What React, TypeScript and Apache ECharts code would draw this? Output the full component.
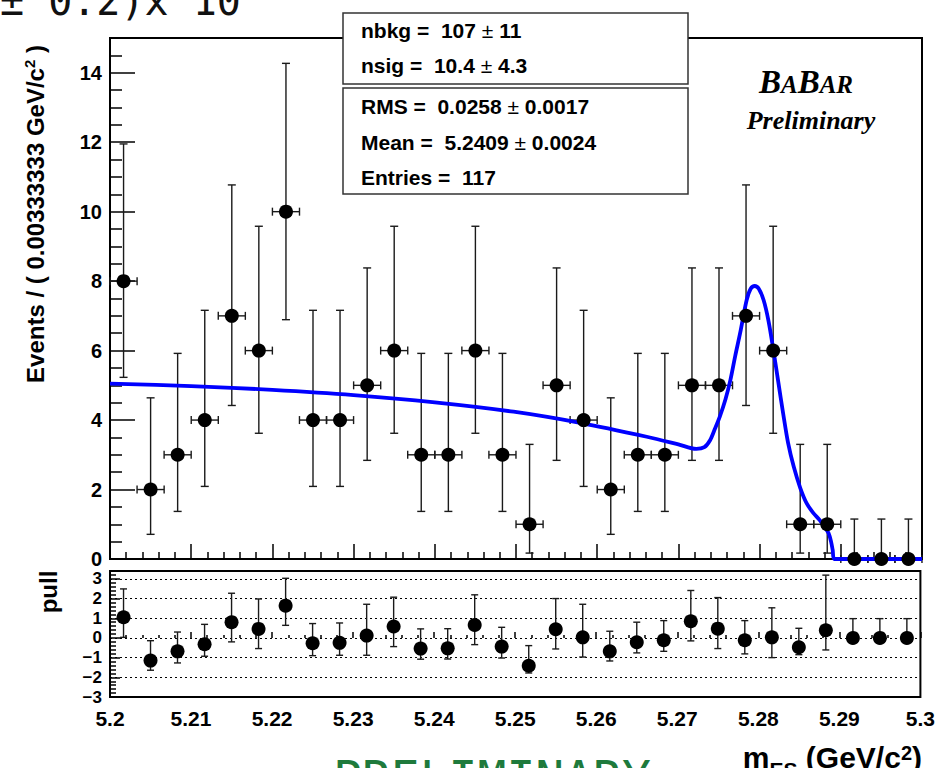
import React, { useEffect, useRef } from "react";
import * as echarts from "echarts";

// ---- data ----
const binCenters = [
  5.20167, 5.205, 5.20833, 5.21167, 5.215, 5.21833, 5.22167, 5.225, 5.22833, 5.23167,
  5.235, 5.23833, 5.24167, 5.245, 5.24833, 5.25167, 5.255, 5.25833, 5.26167, 5.265,
  5.26833, 5.27167, 5.275, 5.27833, 5.28167, 5.285, 5.28833, 5.29167, 5.295, 5.29833,
];
const counts = [8, 2, 3, 4, 7, 6, 10, 4, 4, 5, 6, 3, 3, 6, 3, 1, 5, 4, 2, 3, 3, 5, 5, 7, 6, 1, 1, 0, 0, 0];
const errLow = [
  5.23, 0.71, 1.37, 2.09, 4.42, 3.62, 6.89, 2.09, 2.09, 2.84, 3.62, 1.37, 1.37, 3.62, 1.37,
  0.17, 2.84, 2.09, 0.71, 1.37, 1.37, 2.84, 2.84, 4.42, 3.62, 0.17, 0.17, 0, 0, 0,
];
const errHigh = [
  11.95, 4.64, 5.92, 7.16, 10.77, 9.58, 14.27, 7.16, 7.16, 8.38, 9.58, 5.92, 5.92, 9.58, 5.92,
  3.3, 8.38, 7.16, 4.64, 5.92, 5.92, 8.38, 8.38, 10.77, 9.58, 3.3, 3.3, 1.15, 1.15, 1.15,
];
const halfBin = 0.001667;

const pullValues = [
  1.05, -1.15, -0.68, -0.32, 0.8, 0.46, 1.64, -0.27, -0.25, 0.12, 0.58, -0.54, -0.53, 0.66, -0.44,
  -1.41, 0.44, 0.03, -0.68, -0.22, -0.12, 0.85, 0.47, -0.12, 0.03, -0.47, 0.39, 0, 0, 0,
];
const pullLow = [
  0.03, -1.64, -1.27, -0.93, -0.2, -0.54, 0.64, -0.9, -0.88, -0.88, -0.44, -1.08, -1.07, -0.34, -1.02,
  -1.78, -0.56, -0.97, -1.17, -0.76, -0.68, -0.15, -0.54, -0.81, -1.0, -0.85, -0.61, 0, 0, 0,
];
const pullHigh = [
  2.49, -0.14, 0.3, 0.69, 2.27, 1.98, 3.03, 0.73, 0.76, 1.71, 2.07, 0.46, 0.47, 2.19, 0.54,
  -0.39, 2.0, 1.71, 0.34, 0.8, 0.88, 2.41, 2.05, 0.88, 1.53, 0.49, 3.19, 0.98, 0.98, 0.98,
];

const curveX = [
  5.2, 5.21, 5.22, 5.23, 5.24, 5.2497, 5.2579, 5.2661, 5.27, 5.2722, 5.2732,
  5.2739, 5.2745, 5.2751, 5.2758, 5.2764, 5.277, 5.2776, 5.2784, 5.2789, 5.2794, 5.2799,
  5.2805, 5.2811, 5.2817, 5.2823, 5.2829, 5.2835, 5.2842, 5.285, 5.2858, 5.2866, 5.2874,
  5.288, 5.2885, 5.2888, 5.289, 5.2892, 5.3,
];
const curveY = [
  5.05, 4.98, 4.87, 4.72, 4.51, 4.24, 3.92, 3.52, 3.3, 3.17, 3.22,
  3.42, 3.75, 4.1, 4.6, 5.15, 5.85, 6.5, 7.45, 7.78, 7.86, 7.78,
  7.45, 6.85, 6.01, 5.1, 4.19, 3.35, 2.66, 2.05, 1.6, 1.33, 1.12,
  0.92, 0.74, 0.5, 0.26, 0.0, 0.0,
];

const statsTop = [
  ["nbkg", "107", "11"],
  ["nsig", "10.4", "4.3"],
];
const statsBottom = [
  ["RMS", "0.0258", "0.0017"],
  ["Mean", "5.2409", "0.0024"],
  ["Entries", "117", ""],
];

const SANS = "'Liberation Sans', Arial, Helvetica, sans-serif";
const SERIF = "'Liberation Serif', 'Times New Roman', serif";
const MONO = "'DejaVu Sans Mono', monospace";
const NB = "\u00a0";

export default function App() {
  const ref = useRef<HTMLDivElement>(null);

  useEffect(() => {
    document.body.style.margin = "0";
    const chart = echarts.init(ref.current!, undefined, { renderer: "svg" });

    const mainErr = binCenters.map((x, i) => [x, errLow[i], errHigh[i], counts[i]]);
    const pullErr = binCenters.map((x, i) => [x, pullLow[i], pullHigh[i], pullValues[i]]);

    const stroke = { stroke: "#1a1a1a", lineWidth: 1.4 };

    const mainErrRender = (params: any, api: any) => {
      const x = api.value(0), lo = api.value(1), hi = api.value(2), y = api.value(3);
      const top = api.coord([x, hi]);
      const bot = api.coord([x, lo]);
      const l = api.coord([x - halfBin, y]);
      const r = api.coord([x + halfBin, y]);
      const c = 4;
      const ch: any[] = [
        { type: "line", shape: { x1: top[0], y1: top[1], x2: bot[0], y2: bot[1] }, style: stroke },
        { type: "line", shape: { x1: top[0] - c, y1: top[1], x2: top[0] + c, y2: top[1] }, style: stroke },
        { type: "line", shape: { x1: l[0], y1: l[1], x2: r[0], y2: r[1] }, style: stroke },
        { type: "line", shape: { x1: l[0], y1: l[1] - c, x2: l[0], y2: l[1] + c }, style: stroke },
        { type: "line", shape: { x1: r[0], y1: r[1] - c, x2: r[0], y2: r[1] + c }, style: stroke },
      ];
      if (lo > 0) ch.push({ type: "line", shape: { x1: bot[0] - c, y1: bot[1], x2: bot[0] + c, y2: bot[1] }, style: stroke });
      return { type: "group", children: ch };
    };

    const pullErrRender = (params: any, api: any) => {
      const x = api.value(0), lo = api.value(1), hi = api.value(2);
      const top = api.coord([x, hi]);
      const bot = api.coord([x, lo]);
      const c = 3.5;
      return {
        type: "group",
        children: [
          { type: "line", shape: { x1: top[0], y1: top[1], x2: bot[0], y2: bot[1] }, style: stroke },
          { type: "line", shape: { x1: top[0] - c, y1: top[1], x2: top[0] + c, y2: top[1] }, style: stroke },
          { type: "line", shape: { x1: bot[0] - c, y1: bot[1], x2: bot[0] + c, y2: bot[1] }, style: stroke },
        ],
      };
    };

    const tickStyle = { color: "#000", width: 1.5 };
    const xFmt = (v: number) => v.toFixed(2).replace(/0$/, "");

    const statText = (rows: string[][], top: number) =>
      rows.map((r, i) => ({
        type: "text",
        z: 101,
        x: 361,
        y: top + i * 35.5,
        style: {
          text: r[2]
            ? `{b|${r[0]}${NB}=${NB}${NB}${r[1]}${NB}}{p|±}{b|${NB}${r[2]}}`
            : `{b|${r[0]}${NB}=${NB}${NB}${r[1]}}`,
          rich: {
            b: { fontFamily: SANS, fontWeight: "bold", fontSize: 21, fill: "#000" },
            p: { fontFamily: SANS, fontWeight: "normal", fontSize: 21, fill: "#000" },
          },
          align: "left",
          verticalAlign: "middle",
        },
      }));

    chart.setOption({
      animation: false,
      backgroundColor: "#fff",
      grid: [
        { left: 110, top: 38, width: 812, height: 521, show: true, borderColor: "#000", borderWidth: 2, backgroundColor: "transparent" },
        { left: 110, top: 571, width: 812, height: 126, show: true, borderColor: "#000", borderWidth: 2, backgroundColor: "transparent" },
      ],
      xAxis: [
        {
          type: "value", gridIndex: 0, min: 5.2, max: 5.3, interval: 0.01,
          axisLine: { show: false },
          axisTick: { show: true, inside: true, length: 15, lineStyle: tickStyle },
          minorTick: { show: true, splitNumber: 5, length: 7, lineStyle: tickStyle },
          axisLabel: { show: false },
          splitLine: { show: false },
        },
        {
          type: "value", gridIndex: 1, min: 5.2, max: 5.3, interval: 0.01,
          axisLine: { show: false },
          axisTick: { show: true, inside: true, length: 6, lineStyle: tickStyle },
          minorTick: { show: true, splitNumber: 5, length: 3, lineStyle: tickStyle },
          axisLabel: { show: true, formatter: xFmt, fontFamily: SANS, fontWeight: "bold", fontSize: 21, color: "#000", margin: 11 },
          splitLine: { show: false },
        },
      ],
      yAxis: [
        {
          type: "value", gridIndex: 0, min: 0, max: 15, interval: 2,
          axisLine: { show: false },
          axisTick: { show: true, inside: true, length: 25, lineStyle: tickStyle },
          minorTick: { show: true, splitNumber: 4, length: 12, lineStyle: tickStyle },
          axisLabel: { show: true, showMaxLabel: false, fontFamily: SANS, fontWeight: "bold", fontSize: 20, color: "#000", margin: 8 },
          splitLine: { show: false },
        },
        {
          type: "value", gridIndex: 1, min: -3, max: 3.4, interval: 1,
          axisLine: { show: false },
          axisTick: { show: true, inside: true, length: 10, lineStyle: tickStyle },
          minorTick: { show: true, splitNumber: 5, length: 6, lineStyle: tickStyle },
          axisLabel: {
            show: true, showMaxLabel: false,
            formatter: (v: number) => (v < 0 ? "\u2212" + Math.abs(v) : String(v)),
            fontFamily: SANS, fontWeight: "bold", fontSize: 17, color: "#000", margin: 8,
          },
          splitLine: { show: true, lineStyle: { color: "#000", width: 1, type: [2, 3] } },
        },
      ],
      series: [
        {
          type: "custom", name: "err", xAxisIndex: 0, yAxisIndex: 0, z: 2,
          renderItem: mainErrRender, data: mainErr, encode: { x: 0, y: [1, 2] },
        },
        {
          type: "line", name: "fit", xAxisIndex: 0, yAxisIndex: 0, z: 3,
          data: curveX.map((x, i) => [x, curveY[i]]),
          showSymbol: false, smooth: 0.3,
          lineStyle: { color: "#0000ff", width: 3.8 },
        },
        {
          type: "scatter", name: "data", xAxisIndex: 0, yAxisIndex: 0, z: 5,
          data: binCenters.map((x, i) => [x, counts[i]]),
          symbol: "circle", symbolSize: 14, itemStyle: { color: "#000", opacity: 1 },
        },
        {
          type: "custom", name: "pullErr", xAxisIndex: 1, yAxisIndex: 1, z: 2,
          renderItem: pullErrRender, data: pullErr, encode: { x: 0, y: [1, 2] },
        },
        {
          type: "scatter", name: "pull", xAxisIndex: 1, yAxisIndex: 1, z: 5,
          data: binCenters.map((x, i) => [x, pullValues[i]]),
          symbol: "circle", symbolSize: 14, itemStyle: { color: "#000", opacity: 1 },
        },
      ],
      graphic: [
        {
          type: "text", z: 100, x: 0, y: 1,
          style: { text: "±" + NB + "0.2)x" + NB + "10", fontFamily: MONO, fontSize: 40, fill: "#111", align: "left", verticalAlign: "middle" },
        },
        { type: "rect", z: 100, shape: { x: 343, y: 13, width: 345, height: 71 }, style: { fill: "#fff", stroke: "#333", lineWidth: 1.5 } },
        { type: "rect", z: 100, shape: { x: 343, y: 88, width: 345, height: 106 }, style: { fill: "#fff", stroke: "#333", lineWidth: 1.5 } },
        ...statText(statsTop, 30),
        ...statText(statsBottom, 106.5),
        {
          type: "text", z: 100, x: 806, y: 82,
          style: {
            text: "{B|B}{a|A}{B|B}{a|AR}",
            rich: {
              B: { fontFamily: SERIF, fontWeight: "bold", fontStyle: "italic", fontSize: 33, fill: "#000" },
              a: { fontFamily: SERIF, fontWeight: "bold", fontStyle: "italic", fontSize: 25, fill: "#000", padding: [4, 0, 0, 0] },
            },
            align: "center", verticalAlign: "middle",
          },
        },
        {
          type: "text", z: 100, x: 811, y: 120,
          style: { text: "Preliminary", fontFamily: SERIF, fontWeight: "bold", fontStyle: "italic", fontSize: 26, fill: "#000", align: "center", verticalAlign: "middle" },
        },
        {
          type: "text", z: 100, x: 35, y: 214, rotation: Math.PI / 2,
          style: {
            text: `{a|Events${NB}/${NB}(${NB}0.00333333${NB}GeV/c}{s|2}{a|${NB})}`,
            rich: {
              a: { fontFamily: SANS, fontWeight: "bold", fontSize: 24, fill: "#000" },
              s: { fontFamily: SANS, fontWeight: "bold", fontSize: 15, fill: "#000", padding: [0, 0, 12, 0] },
            },
            align: "center", verticalAlign: "middle",
          },
        },
        {
          type: "text", z: 100, x: 48, y: 592, rotation: Math.PI / 2,
          style: { text: "pull", fontFamily: SANS, fontWeight: "bold", fontSize: 24, fill: "#000", align: "center", verticalAlign: "middle" },
        },
        {
          type: "text", z: 100, x: 922, y: 757,
          style: {
            text: `{a|m}{s|ES}{a|${NB}(GeV/c}{p|2}{a|)}`,
            rich: {
              a: { fontFamily: SANS, fontWeight: "bold", fontSize: 30, fill: "#000" },
              s: { fontFamily: SANS, fontWeight: "bold", fontSize: 21, fill: "#000", padding: [24, 0, 0, 0] },
              p: { fontFamily: SANS, fontWeight: "bold", fontSize: 20, fill: "#000", padding: [0, 0, 9, 0] },
            },
            align: "right", verticalAlign: "middle",
          },
        },
        {
          type: "text", z: 100, x: 333, y: 778,
          style: { text: "PRELIMINARY", fontFamily: MONO, fontSize: 48, fill: "#1e7a3c", align: "left", verticalAlign: "middle" },
        },
      ],
    });

    return () => chart.dispose();
  }, []);

  return <div ref={ref} style={{ width: 938, height: 768 }} />;
}
